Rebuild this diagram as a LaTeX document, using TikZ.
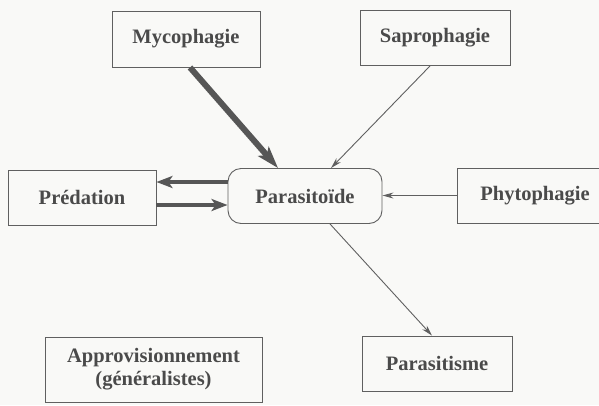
\documentclass[tikz,border=0pt]{standalone}
\usepackage{fontspec}
\setmainfont{Liberation Serif}
\usetikzlibrary{arrows.meta}
\definecolor{ink}{HTML}{4A4A4A}
\definecolor{edge}{HTML}{606060}
\definecolor{paper}{HTML}{F9F9F7}
\begin{document}
\begin{tikzpicture}[x=1pt,y=-1pt,
  box/.style={draw=edge, line width=0.9pt, rectangle, inner sep=0pt,
    font=\fontsize{20.5}{22}\selectfont\bfseries, text=ink, align=center},
  thin arrow/.style={draw=edge, line width=0.9pt, -{Stealth[length=11pt,width=6pt]}},
  mid arrow/.style={draw=edge!90!black, line width=4pt, -{Stealth[length=16pt,width=12pt,inset=4pt]}},
  big arrow/.style={draw=edge!90!black, line width=6pt, -{Stealth[length=22pt,width=14pt,inset=5pt]}}]
\fill[paper] (0,0) rectangle (599,405);
\useasboundingbox (0,0) rectangle (599,405);
\node[box, minimum width=148pt, minimum height=56pt] (myco) at (186,39) {Mycophagie};
\node[box, minimum width=150pt, minimum height=55pt] (sapro) at (435,38) {Saprophagie};
\node[box, minimum width=148pt, minimum height=55pt] (pred) at (82,197.5) {Prédation};
\node[box, rounded corners=13pt, minimum width=154pt, minimum height=55pt] (par) at (305,196) {Parasitoïde};
\node[box, minimum width=156pt, minimum height=55pt] (phyto) at (535,195.5) {Phytophagie};
\node[box, minimum width=150pt, minimum height=55pt] (parsm) at (437,363.5) {Parasitisme};
\node[box, minimum width=217pt, minimum height=65pt] (appro) at (153.5,369.5) {Approvisionnement\\[1pt](généralistes)};
\draw[big arrow] ([xshift=4pt]myco.south) -- ([xshift=-27pt]par.north);
\draw[thin arrow] ([xshift=-5pt]sapro.south) -- ([xshift=26pt]par.north);
\draw[thin arrow] (phyto.west) -- (phyto.west -| par.east);
\draw[thin arrow] ([xshift=25pt]par.south) -- ([xshift=-5pt]parsm.north);
\draw[mid arrow] ([yshift=14pt]par.west) -- ([yshift=14pt]par.west -| pred.east);
\draw[mid arrow] ([yshift=-9pt]par.west -| pred.east) -- ([yshift=-9pt]par.west);
\end{tikzpicture}
\end{document}
